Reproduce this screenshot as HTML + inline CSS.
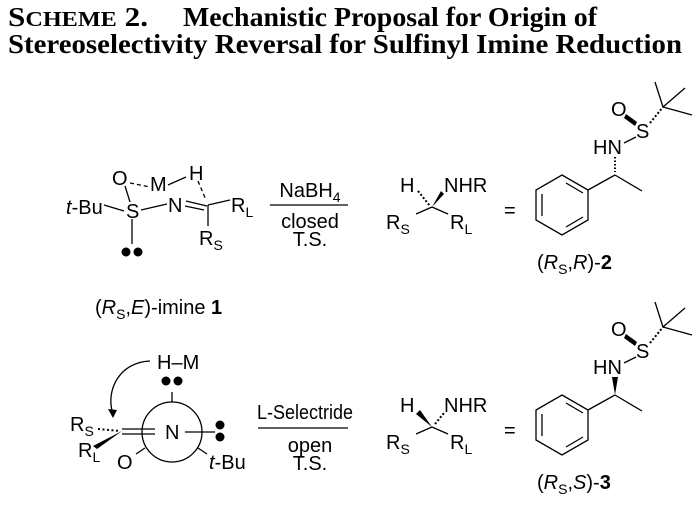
<!DOCTYPE html>
<html><head><meta charset="utf-8"><style>
html,body{margin:0;padding:0;background:#fff;width:698px;height:506px;overflow:hidden}
svg{display:block}
text{font-family:"Liberation Sans",sans-serif;font-size:20px;fill:#000}
.t{font-family:"Liberation Serif",serif;font-weight:bold;font-size:27px}
.s{font-size:14px}
</style></head><body>
<svg width="698" height="506" viewBox="0 0 698 506" xmlns="http://www.w3.org/2000/svg">
<text class="t" x="8" y="26" textLength="140" lengthAdjust="spacingAndGlyphs">S<tspan font-size="21">CHEME</tspan> 2.</text>
<text class="t" x="183" y="26" textLength="414" lengthAdjust="spacingAndGlyphs">Mechanistic Proposal for Origin of</text>
<text class="t" x="8" y="53" textLength="674" lengthAdjust="spacingAndGlyphs">Stereoselectivity Reversal for Sulfinyl Imine Reduction</text>
<g stroke="#000" stroke-width="1.3" fill="none">
<line x1="125" y1="186" x2="130" y2="202"/>
<line x1="130" y1="183" x2="150" y2="187" stroke-dasharray="4,3"/>
<line x1="168" y1="185" x2="186" y2="177"/>
<line x1="104" y1="205" x2="124" y2="211"/>
<line x1="141" y1="210" x2="167" y2="204"/>
<line x1="186" y1="201" x2="207" y2="206"/>
<line x1="185" y1="206" x2="204" y2="210"/>
<line x1="198" y1="181" x2="206" y2="200" stroke-dasharray="4,3"/>
<line x1="208" y1="205" x2="230" y2="200"/>
<line x1="208" y1="205" x2="208" y2="226"/>
<line x1="132" y1="219" x2="132" y2="244"/>
<line x1="270" y1="205" x2="348" y2="205"/>
<circle cx="172" cy="432" r="30"/>
<line x1="122" y1="429" x2="155" y2="429"/>
<line x1="122" y1="434" x2="155" y2="434"/>
<line x1="185" y1="432" x2="215" y2="432"/>
<line x1="172" y1="402" x2="172" y2="392"/>
<line x1="145" y1="448" x2="136" y2="454"/>
<line x1="198" y1="448" x2="207" y2="454"/>
<path d="M150 361 C120 362 105 390 113 414"/>
<line x1="258" y1="428" x2="348" y2="428"/>
<line x1="98" y1="429" x2="120" y2="431" stroke-dasharray="2,2.5" stroke-width="2"/>
</g>
<polygon points="122,431 93,446 97,449" fill="#000"/>
<polygon points="113,418 108,409 117,410" fill="#000"/>
<circle cx="126" cy="252" r="4.5"/><circle cx="138" cy="252" r="4.5"/>
<circle cx="166" cy="381" r="4.5"/><circle cx="178" cy="381" r="4.5"/>
<circle cx="220" cy="425" r="4.5"/><circle cx="220" cy="437" r="4.5"/>
<text x="112" y="185">O</text><text x="150" y="191">M</text><text x="189" y="180">H</text>
<text x="66" y="214"><tspan font-style="italic">t</tspan>-Bu</text>
<text x="126" y="218">S</text><text x="168" y="212">N</text>
<text x="231" y="212">R<tspan class="s" dy="5">L</tspan></text>
<text x="199" y="245">R<tspan class="s" dy="5">S</tspan></text>
<text x="95" y="314">(<tspan font-style="italic">R</tspan><tspan class="s" dy="5">S</tspan><tspan dy="-5">,</tspan><tspan font-style="italic">E</tspan>)-imine <tspan font-weight="bold">1</tspan></text>
<text x="310" y="197" text-anchor="middle">NaBH<tspan class="s" dy="5">4</tspan></text>
<text x="310" y="228" text-anchor="middle">closed</text>
<text x="310" y="246" text-anchor="middle">T.S.</text>
<text x="157" y="369">H–M</text>
<text x="165" y="439">N</text>
<text x="70" y="431">R<tspan class="s" dy="5">S</tspan></text>
<text x="78" y="457">R<tspan class="s" dy="5">L</tspan></text>
<text x="117" y="469">O</text>
<text x="209" y="469"><tspan font-style="italic">t</tspan>-Bu</text>
<text x="257" y="419" textLength="96" lengthAdjust="spacingAndGlyphs">L-Selectride</text>
<text x="310" y="452" text-anchor="middle">open</text>
<text x="310" y="470" text-anchor="middle">T.S.</text>
<g>
<g stroke="#000" stroke-width="1.3" fill="none">
<line x1="418" y1="191" x2="430" y2="206" stroke-dasharray="2,2" stroke-width="2"/>
<line x1="432" y1="207" x2="416" y2="214"/>
<line x1="432" y1="207" x2="448" y2="214"/>
<polygon points="562,175 588,190 588,220 562,235 536,220 536,190"/>
<line x1="566" y1="183" x2="583" y2="193"/>
<line x1="566" y1="227" x2="583" y2="217"/>
<line x1="542" y1="194" x2="542" y2="216"/>
<line x1="588" y1="190" x2="615" y2="175"/>
<line x1="615" y1="175" x2="642" y2="191"/>
<line x1="624" y1="143" x2="636" y2="137"/>
<line x1="650" y1="123" x2="663" y2="107" stroke-dasharray="2,2" stroke-width="2"/>
<line x1="663" y1="107" x2="655" y2="82"/>
<line x1="663" y1="107" x2="685" y2="88"/>
<line x1="663" y1="107" x2="692" y2="115"/>
<line x1="615" y1="157" x2="615" y2="172" stroke-dasharray="1.5,2" stroke-width="2"/>
</g>
<polygon points="432,207 441,191 444,194" fill="#000"/>
<polygon points="626,114 637,122 635,126 624,118" fill="#000"/>
<text x="400" y="192">H</text><text x="444" y="192">NHR</text>
<text x="386" y="229">R<tspan class="s" dy="5">S</tspan></text>
<text x="450" y="229">R<tspan class="s" dy="5">L</tspan></text>
<text x="504" y="217">=</text>
<text x="593" y="154">HN</text>
<text x="636" y="138">S</text>
<text x="611" y="116">O</text>
</g>
<text x="537" y="269">(<tspan font-style="italic">R</tspan><tspan class="s" dy="5">S</tspan><tspan dy="-5">,</tspan><tspan font-style="italic">R</tspan>)-<tspan font-weight="bold">2</tspan></text>
<g transform="translate(0,220)">
<g stroke="#000" stroke-width="1.3" fill="none">
<line x1="432" y1="207" x2="416" y2="214"/>
<line x1="432" y1="207" x2="448" y2="214"/>
<line x1="435" y1="204" x2="444" y2="193" stroke-dasharray="2,2" stroke-width="2"/>
<polygon points="562,175 588,190 588,220 562,235 536,220 536,190"/>
<line x1="566" y1="183" x2="583" y2="193"/>
<line x1="566" y1="227" x2="583" y2="217"/>
<line x1="542" y1="194" x2="542" y2="216"/>
<line x1="588" y1="190" x2="615" y2="175"/>
<line x1="615" y1="175" x2="642" y2="191"/>
<line x1="624" y1="143" x2="636" y2="137"/>
<line x1="650" y1="123" x2="663" y2="107" stroke-dasharray="2,2" stroke-width="2"/>
<line x1="663" y1="107" x2="655" y2="82"/>
<line x1="663" y1="107" x2="685" y2="88"/>
<line x1="663" y1="107" x2="692" y2="115"/>
</g>
<polygon points="432,207 416,194 420,190" fill="#000"/>
<polygon points="615,175 612,157 618,157" fill="#000"/>
<polygon points="626,114 637,122 635,126 624,118" fill="#000"/>
<text x="400" y="192">H</text><text x="444" y="192">NHR</text>
<text x="386" y="229">R<tspan class="s" dy="5">S</tspan></text>
<text x="450" y="229">R<tspan class="s" dy="5">L</tspan></text>
<text x="504" y="217">=</text>
<text x="593" y="154">HN</text>
<text x="636" y="138">S</text>
<text x="611" y="116">O</text>
<text x="537" y="269">(<tspan font-style="italic">R</tspan><tspan class="s" dy="5">S</tspan><tspan dy="-5">,</tspan><tspan font-style="italic">S</tspan>)-<tspan font-weight="bold">3</tspan></text>
</g>
</svg>
</body></html>
